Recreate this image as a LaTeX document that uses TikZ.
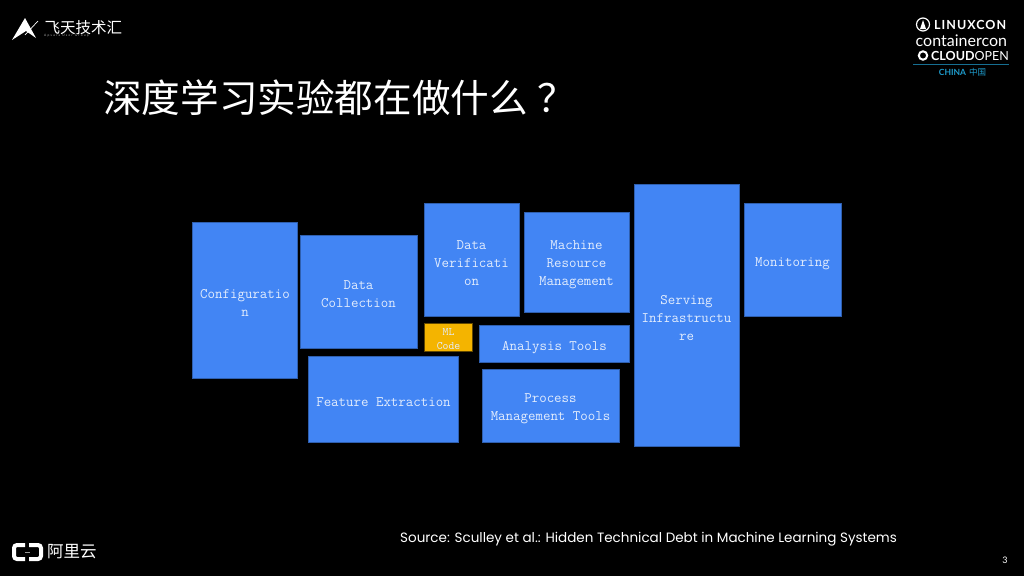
\documentclass[tikz,border=0pt]{standalone}
\usepackage{fontspec}
\setmainfont{Lato}
\newfontfamily\cjk{Noto Sans CJK SC}
\newfontfamily\srcfont{Poppins}
\definecolor{boxblue}{HTML}{4285F4}
\definecolor{boxedge}{HTML}{2F5FAE}
\definecolor{mlyellow}{HTML}{F4B400}
\definecolor{boxtext}{HTML}{E3EDFD}
\definecolor{chinablue}{HTML}{1F9FD0}
\begin{document}
\begin{tikzpicture}[
    x=1pt, y=-1pt,
    box/.style={draw=boxedge, line width=0.6pt, fill=boxblue, text=boxtext, inner sep=0pt, align=center,
                text height=15.5pt, font=\ttfamily\fontsize{14.5}{18}\selectfont},
    twolines/.style={box, text height=31pt},
    threelines/.style={box, text height=50.5pt},
    mlbox/.style={box, fill=mlyellow, draw=black!60!mlyellow, text height=25pt, font=\ttfamily\fontsize{11.4}{14}\selectfont},
    title/.style={text=white, inner sep=0pt, anchor=west, font=\cjk\fontsize{38.6}{40}\selectfont},
    source/.style={text=white, inner sep=0pt, anchor=west, font=\srcfont\fontsize{13.5}{16}\selectfont},
    brand/.style={text=white, inner sep=0pt, anchor=west, font=\cjk\fontsize{15.5}{16}\selectfont},
    conf/.style={text=white, inner sep=0pt, anchor=west, font=\bfseries\fontsize{12.5}{14}\selectfont}
]
\fill[black] (0,0) rectangle (1024,576);
\useasboundingbox (0,0) rectangle (1024,576);

% blocks
\node[twolines, minimum width=105, minimum height=156] (config)   at (245,300.5) {Configuratio\\n};
\node[twolines, minimum width=117, minimum height=113] (datacoll) at (358.5,292) {Data\\Collection};
\node[threelines, minimum width=95,  minimum height=113] (dataver)  at (471.5,260) {Data\\Verificati\\on};
\node[threelines, minimum width=105, minimum height=100] (machine)  at (576.5,262) {Machine\\Resource\\Management};
\node[threelines, minimum width=105, minimum height=262] (serving)  at (686.5,315.5) {Serving\\Infrastructu\\re};
\node[box, minimum width=97,  minimum height=113] (monitor)  at (792.5,260) {Monitoring};
\node[mlbox, minimum width=48, minimum height=28] (mlcode)   at (448.5,337.5) {ML\\Code};
\node[box, minimum width=150, minimum height=37]  (analysis) at (554.5,344) {Analysis Tools};
\node[twolines, minimum width=137, minimum height=73, text height=33pt] (process) at (550.5,406) {Process\\Management Tools};
\node[box, minimum width=150, minimum height=86, text height=14pt] (feature) at (383.5,399.5) {Feature Extraction};

% texts
\node[title]  (heading) at (103,98)  {深度学习实验都在做什么\hspace{0.25em}？};
\node[source] (credit)  at (400,539.5) {Source: Sculley et al.: Hidden Technical Debt in Machine Learning Systems};
\node[text=white, inner sep=0pt, font=\fontsize{9}{10}\selectfont] (pagenum) at (1005,560) {3};

% top left logo
\fill[white] (12,40) -- (25,18) -- (36,38) -- (26,31) -- cycle;
\draw[white, line width=0.7pt] (25,35) -- (38,21);
\node[brand] (feitian) at (44.5,28) {飞天技术汇};
\node[text=white!70!black, inner sep=0pt, anchor=west, font=\fontsize{3.2}{4}\selectfont] (feitiansub) at (44,35.5)
    {\addfontfeature{LetterSpace=40}Apsara User Group};

% bottom left logo
\draw[white, line width=4pt, rounded corners=3pt] (25,545) -- (14,545) -- (14,559) -- (25,559);
\draw[white, line width=4pt, rounded corners=3pt] (29,545) -- (41,545) -- (41,559) -- (29,559);
\draw[white!60!black, line width=0.6pt] (25,552) -- (30,552);
\node[text=white, inner sep=0pt, anchor=west, font=\cjk\fontsize{16.5}{18}\selectfont] (aliyun) at (47,552) {阿里云};

% top right logos
\draw[white, line width=1.2pt] (923,24.5) circle (6.5);
\fill[white] (923,20) -- (926,29) -- (920,29) -- cycle;
\node[conf, font=\bfseries\fontsize{12.5}{14}\selectfont\addfontfeature{LetterSpace=8}] (linuxcon) at (934,24.5) {LINUXCON};
\node[text=white, inner sep=0pt, anchor=west, font=\fontsize{16}{16}\selectfont] (container) at (915.5,40.5) {containercon};
\draw[white, line width=2pt] (923,55.5) circle (4.2);
\node[conf] (cloud) at (931,55.5) {CLOUD\fontseries{l}\selectfont OPEN};
\draw[chinablue!70!black, line width=0.8pt] (913,64.5) -- (1009,64.5);
\node[text=chinablue, inner sep=0pt, font=\bfseries\fontsize{8.5}{8}\selectfont] (china) at (952.5,72) {CHINA};
\node[text=chinablue, inner sep=0pt, font=\cjk\fontsize{8.5}{8}\selectfont] (zhongguo) at (977.5,72) {中国};
\end{tikzpicture}
\end{document}
